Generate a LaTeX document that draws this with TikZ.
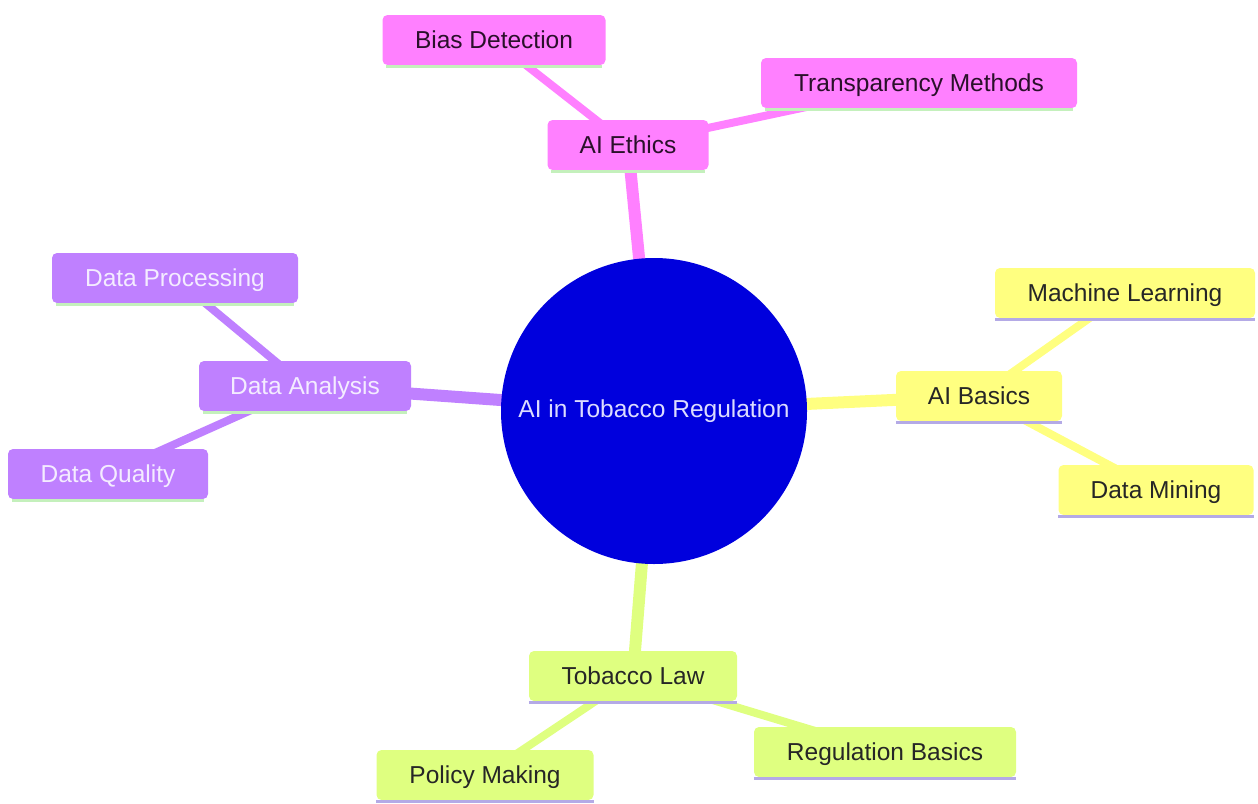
\documentclass[tikz,border=0pt]{standalone}
\usepackage{fontspec}
\setmainfont{Liberation Sans}
\usetikzlibrary{backgrounds}
\definecolor{pinkC}{HTML}{FF80FF}
\definecolor{purpC}{HTML}{BF80FF}
\definecolor{yelC}{HTML}{FFFF80}
\definecolor{grnC}{HTML}{DFFF80}
\definecolor{rootC}{HTML}{0000DD}
\definecolor{stripeG}{HTML}{C4F0BC}
\definecolor{stripeL}{HTML}{B4AAE6}
\definecolor{darkT}{HTML}{2A102A}
\definecolor{lightT}{HTML}{F4ECFF}
\definecolor{rootT}{HTML}{DCDCFF}
\begin{document}
\begin{tikzpicture}[x=1pt,y=-1pt,
  font=\fontsize{24.5}{29}\selectfont,
  box/.style={rectangle, rounded corners=5pt, inner sep=0pt, minimum height=50pt, text depth=0pt},
  pinkbox/.style={box, fill=pinkC, text=darkT},
  purpbox/.style={box, fill=purpC, text=lightT},
  yelbox/.style={box, fill=yelC, text=black!85},
  grnbox/.style={box, fill=grnC, text=black!85},
  edgeA/.style={line width=12pt},
  edgeB/.style={line width=8pt},
  stripe/.style={line width=3pt}
]
\useasboundingbox (0,0) rectangle (1258,803);
% root
\node[circle, fill=rootC, minimum size=306pt, inner sep=0pt, text=rootT] (root) at (654,411) {AI in Tobacco Regulation};
% AI Ethics branch
\node[pinkbox, minimum width=161pt] (eth) at (628,145) {AI Ethics};
\node[pinkbox, minimum width=223pt] (bias) at (494,40) {Bias Detection};
\node[pinkbox, minimum width=316pt] (trans) at (919,83) {Transparency Methods};
% Data Analysis branch
\node[purpbox, minimum width=212pt] (ana) at (305,386) {Data Analysis};
\node[purpbox, minimum width=246pt] (proc) at (175,278) {Data Processing};
\node[purpbox, minimum width=200pt] (qual) at (108,474) {Data Quality};
% AI Basics branch
\node[yelbox, minimum width=166pt] (bas) at (979,396) {AI Basics};
\node[yelbox, minimum width=260pt] (ml) at (1125,293) {Machine Learning};
\node[yelbox, minimum width=195pt] (dm) at (1156,490) {Data Mining};
% Tobacco Law branch
\node[grnbox, minimum width=208pt] (law) at (633,676) {Tobacco Law};
\node[grnbox, minimum width=217pt] (pol) at (485,775) {Policy Making};
\node[grnbox, minimum width=262pt] (reg) at (885,752) {Regulation Basics};
% bottom stripes
\foreach \n in {eth,bias,trans,ana,proc,qual}
  \draw[stripe, stripeG] ([xshift=4pt,yshift=-1.5pt]\n.south west) -- ([xshift=-4pt,yshift=-1.5pt]\n.south east);
\foreach \n in {bas,ml,dm,law,pol,reg}
  \draw[stripe, stripeL] ([yshift=-1.5pt]\n.south west) -- ([yshift=-1.5pt]\n.south east);
% connectors
\begin{scope}[on background layer]
  \draw[edgeA, pinkC] (root.center) -- (eth.center);
  \draw[edgeB, pinkC] (eth.center) -- (bias.center);
  \draw[edgeB, pinkC] (eth.center) -- (trans.center);
  \draw[edgeA, purpC] (root.center) -- (ana.center);
  \draw[edgeB, purpC] (ana.center) -- (proc.center);
  \draw[edgeB, purpC] (ana.center) -- (qual.center);
  \draw[edgeA, yelC] (root.center) -- (bas.center);
  \draw[edgeB, yelC] (bas.center) -- (ml.center);
  \draw[edgeB, yelC] (bas.center) -- (dm.center);
  \draw[edgeA, grnC] (root.center) -- (law.center);
  \draw[edgeB, grnC] (law.center) -- (pol.center);
  \draw[edgeB, grnC] (law.center) -- (reg.center);
\end{scope}
\end{tikzpicture}
\end{document}
